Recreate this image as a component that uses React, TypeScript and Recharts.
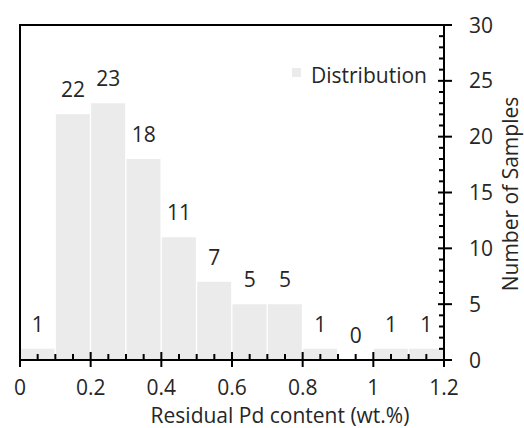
import { ComposedChart, Bar, Scatter, XAxis, YAxis, LabelList, ReferenceLine, Legend } from 'recharts'

// histogram bins (0.1 wt.% wide), keyed by bin centre
const binCenters = [0.05, 0.15, 0.25, 0.35, 0.45, 0.55, 0.65, 0.75, 0.85, 0.95, 1.05, 1.15]
const sampleCounts = [1, 22, 23, 18, 11, 7, 5, 5, 1, 0, 1, 1]

const xMajorTicks = [0, 0.2, 0.4, 0.6, 0.8, 1, 1.2]
const yMajorTicks = [0, 5, 10, 15, 20, 25, 30]

// minor ticks: every 0.05 on x, every 1 sample on y
const xTicks = Array.from({ length: 25 }, (_, i) => i / 20)
const yTicks = Array.from({ length: 31 }, (_, i) => i)

const data = binCenters.map((x, i) => ({ x, count: sampleCounts[i] }))

const FONT = '"Open Sans", Lato, sans-serif'
const FS = 21
const INK = '#262626'
const BAR = '#ebebeb'

const isMajor = (v: number, majors: number[]) => majors.some((m) => Math.abs(m - v) < 1e-6)

function XTick({ x, y, payload }: any) {
  const v = payload.value as number
  const major = isMajor(v, xMajorTicks)
  return (
    <g>
      <line x1={x} x2={x} y1={y - (major ? 8 : 6)} y2={major ? y + 7 : y} stroke="#000" strokeWidth={2} />
      {major && (
        <text x={x} y={y + 35} textAnchor="middle" fontFamily={FONT} fontSize={FS} fill={INK}>
          {String(Math.round(v * 10) / 10)}
        </text>
      )}
    </g>
  )
}

function YTick({ x, y, payload }: any) {
  const v = payload.value as number
  const major = isMajor(v, yMajorTicks)
  return (
    <g>
      <line x1={x - (major ? 6 : 5)} x2={major ? x + 8 : x} y1={y} y2={y} stroke="#000" strokeWidth={2} />
      {major && (
        <text x={x + 25} y={y + 7.5} textAnchor="start" fontFamily={FONT} fontSize={FS} fill={INK}>
          {v}
        </text>
      )}
    </g>
  )
}

// count printed above each bin, including the empty one
function CountLabel(props: any) {
  const vb = props.viewBox ?? props
  const cx = vb.x + (vb.width || 0) / 2
  const cy = vb.y + (vb.height || 0) / 2
  return (
    <text x={cx} y={cy - 17} textAnchor="middle" fontFamily={FONT} fontSize={FS} fill={INK}>
      {props.value}
    </text>
  )
}

function LegendBox() {
  return (
    <div style={{ display: 'flex', alignItems: 'center', fontFamily: FONT, fontSize: FS, color: INK, whiteSpace: 'nowrap' }}>
      <span style={{ width: 9, height: 9, background: BAR, marginRight: 10, display: 'inline-block', position: 'relative', top: -3 }} />
      <span>Distribution</span>
    </div>
  )
}

export default function App() {
  return (
    <div style={{ position: 'absolute', left: 0, top: 0 }}>
      <ComposedChart
        width={524}
        height={428}
        data={data}
        margin={{ top: 25, right: 0, left: 20, bottom: 0 }}
        barCategoryGap={0.5}
      >
        <XAxis
          dataKey="x"
          type="number"
          domain={[0, 1.2]}
          ticks={xTicks}
          interval={0}
          height={68}
          tickSize={0}
          tickMargin={0}
          tickLine={false}
          tick={<XTick />}
          axisLine={{ stroke: '#000', strokeWidth: 2 }}
          label={{
            content: ({ viewBox }: any) => (
              <text
                x={viewBox.x + viewBox.width / 2 + 48}
                y={viewBox.y + 62.5}
                textAnchor="middle"
                fontFamily={FONT}
                fontSize={FS}
                fill={INK}
              >
                Residual Pd content (wt.%)
              </text>
            ),
          }}
        />
        <YAxis
          orientation="right"
          domain={[0, 30]}
          ticks={yTicks}
          interval={0}
          width={80}
          tickSize={0}
          tickMargin={0}
          tickLine={false}
          tick={<YTick />}
          axisLine={{ stroke: '#000', strokeWidth: 2 }}
          label={{
            content: ({ viewBox }: any) => {
              const cx = viewBox.x + 74
              const cy = 194
              return (
                <text
                  x={cx}
                  y={cy}
                  transform={`rotate(-90 ${cx} ${cy})`}
                  textAnchor="middle"
                  fontFamily={FONT}
                  fontSize={FS}
                  fill={INK}
                >
                  Number of Samples
                </text>
              )
            },
          }}
        />
        <ReferenceLine y={30} stroke="#000" strokeWidth={2} strokeLinecap="square" />
        <ReferenceLine x={0} stroke="#000" strokeWidth={2} strokeLinecap="square" />
        <Legend
          layout="vertical"
          align="center"
          verticalAlign="middle"
          wrapperStyle={{ left: 292, top: 61, width: 'auto' }}
          content={() => <LegendBox />}
        />
        <Bar dataKey="count" name="Distribution" fill={BAR} isAnimationActive={false} />
        <Scatter dataKey="count" legendType="none" shape={() => <g />} isAnimationActive={false}>
          <LabelList dataKey="count" content={<CountLabel />} />
        </Scatter>
      </ComposedChart>
    </div>
  )
}
